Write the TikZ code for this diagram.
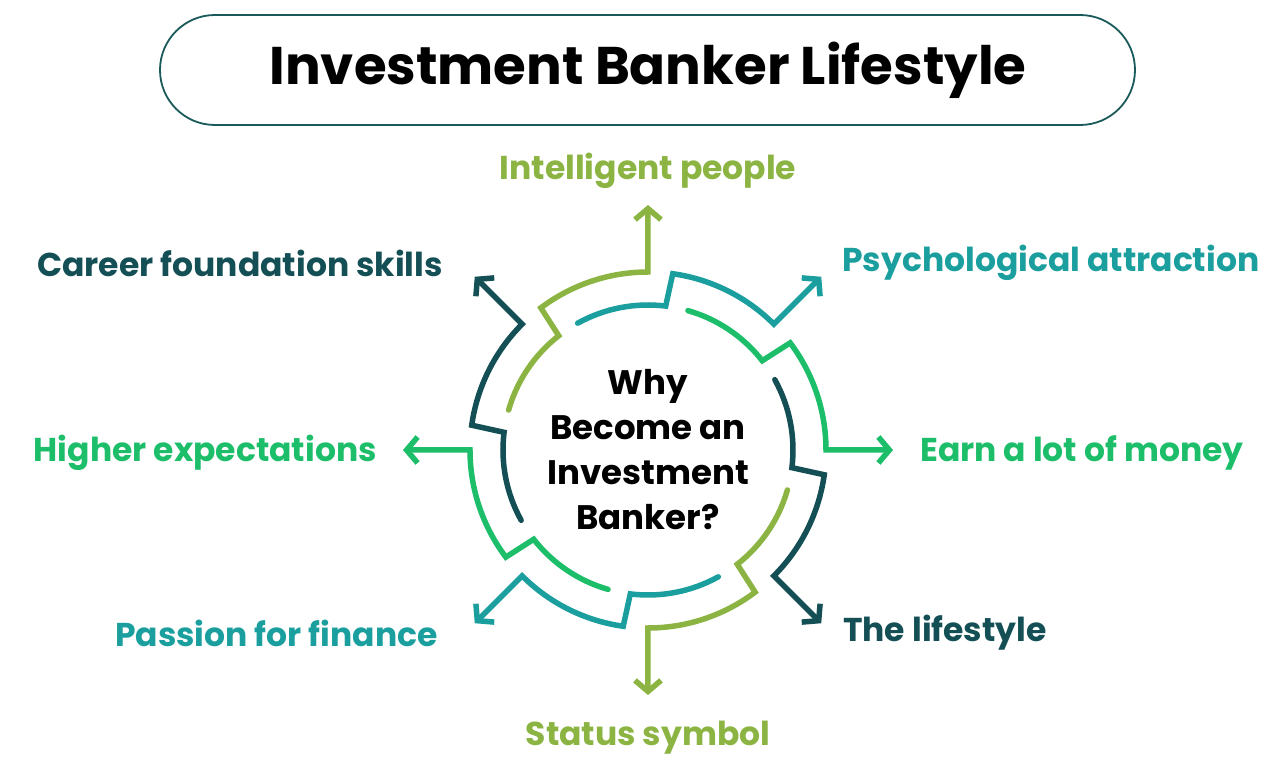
\documentclass[tikz,border=0pt]{standalone}
\usepackage{fontspec}
\setmainfont{Poppins}
\usetikzlibrary{arrows.meta}
\definecolor{cA}{HTML}{8BB443}
\definecolor{cB}{HTML}{1A9E9E}
\definecolor{cC}{HTML}{1DBE6A}
\definecolor{cD}{HTML}{144F55}
\definecolor{ttl}{HTML}{1A5A5A}
\tikzset{ring/.style={line width=5.5pt,line cap=round,-{Straight Barb[length=11pt,width=26pt,line width=5.5pt]}},
 lab/.style={font=\fontsize{33}{38}\selectfont\bfseries,inner sep=0pt}}
\begin{document}
\begin{tikzpicture}[x=1pt,y=1pt]
\useasboundingbox (-648,-323) rectangle (632,450);
\fill[white] (-648,-323) rectangle (632,450);
\draw[ttl,line width=1.8pt,rounded corners=55pt] (-488,435) rectangle (487,325);
\node[inner sep=0pt,font=\fontsize{53}{58}\selectfont\bfseries] (title) at (0,380) {Investment Banker Lifestyle};
\foreach \t/\c in {90/cA,45/cB,0/cC,-45/cD,-90/cA,-135/cB,180/cC,135/cD}{
  \draw[ring,\c] (\t+74:145) arc[start angle=\t+74,end angle=\t+38,radius=145] -- (\t+37:178) arc[start angle=\t+37,end angle=\t,radius=178] -- (\t:245);
}
\node[align=center,inner sep=0pt,font=\fontsize{34}{45}\selectfont\bfseries] (ctr) at (0,0) {Why\\Become an\\Investment\\Banker?};
\node[lab,text=cA] (n1) at (0,279) {Intelligent people};
\node[lab,text=cB,anchor=west] (n2) at (194,187) {Psychological attraction};
\node[lab,text=cD,anchor=east] (n3) at (-205,187) {Career foundation skills};
\node[lab,text=cC,anchor=west] (n4) at (272,-3) {Earn a lot of money};
\node[lab,text=cC,anchor=east] (n5) at (-271,-3) {Higher expectations};
\node[lab,text=cD,anchor=west] (n6) at (195,-183) {The lifestyle};
\node[lab,text=cB,anchor=east] (n7) at (-210,-183) {Passion for finance};
\node[lab,text=cA] (n8) at (0,-288) {Status symbol};
\end{tikzpicture}
\end{document}
